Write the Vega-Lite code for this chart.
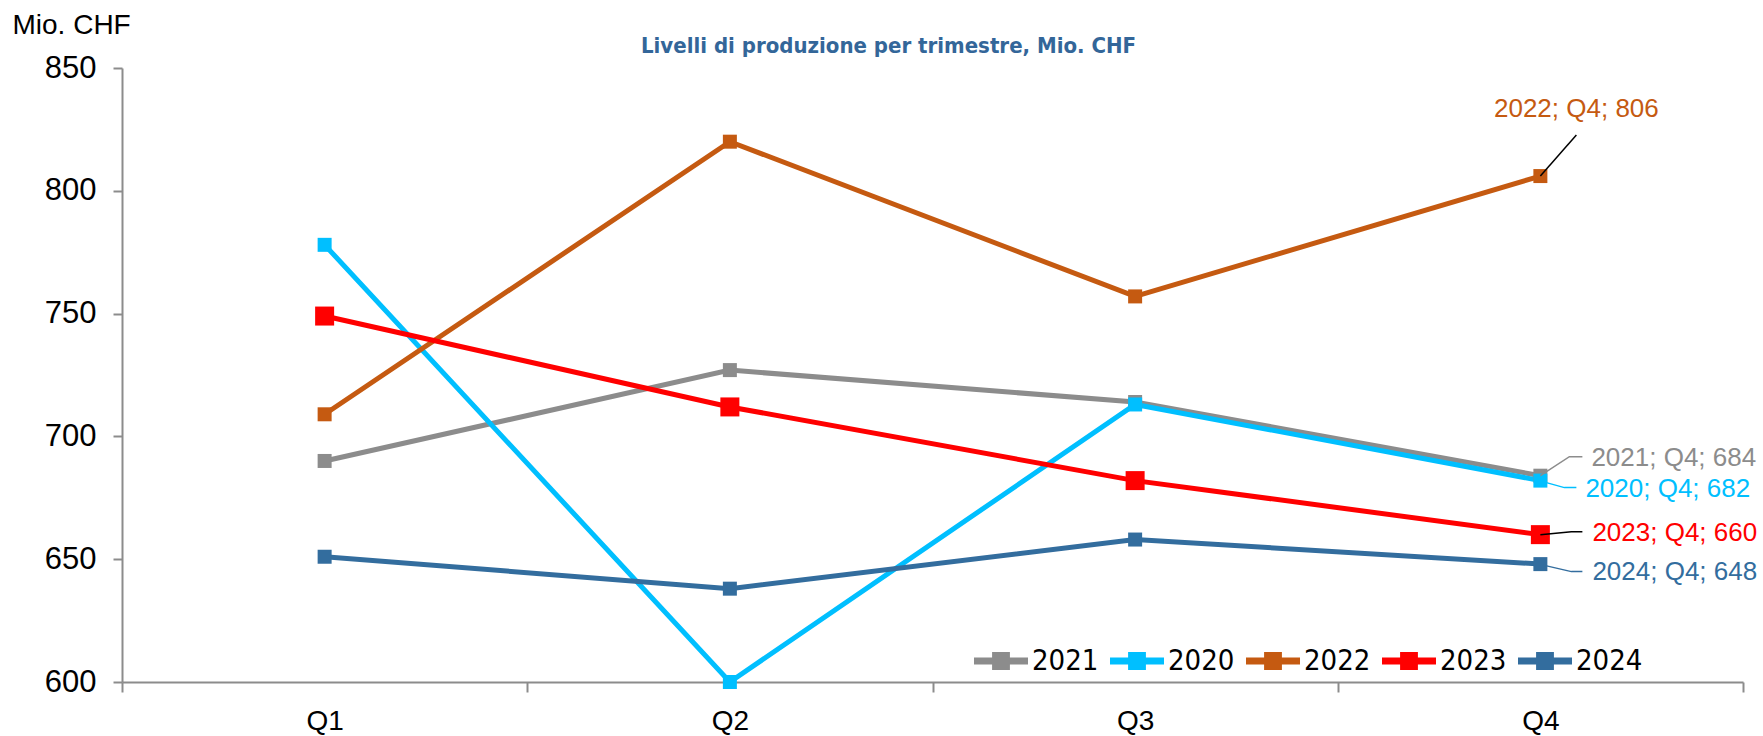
{
  "$schema": "https://vega.github.io/schema/vega-lite/v6.json",
  "width": 1621,
  "height": 614,
  "autosize": {"type": "none"},
  "padding": {"left": 122, "top": 68, "right": 20, "bottom": 54},
  "background": "white",
  "config": {"view": {"stroke": null}, "font": "Liberation Sans"},
  "title": {
    "text": "Livelli di produzione per trimestre, Mio. CHF",
    "font": "Liberation Sans Narrow, DejaVu Sans Condensed, sans-serif",
    "fontSize": 22,
    "fontWeight": "bold",
    "color": "#336699",
    "anchor": "middle",
    "frame": "group",
    "dx": -44,
    "offset": -64,
    "baseline": "alphabetic"
  },
  "data": {
    "values": [
      {"year": "2021", "q": "Q1", "value": 690},
      {"year": "2021", "q": "Q2", "value": 727},
      {"year": "2021", "q": "Q3", "value": 714},
      {"year": "2021", "q": "Q4", "value": 684},
      {"year": "2020", "q": "Q1", "value": 778},
      {"year": "2020", "q": "Q2", "value": 600},
      {"year": "2020", "q": "Q3", "value": 713},
      {"year": "2020", "q": "Q4", "value": 682},
      {"year": "2022", "q": "Q1", "value": 709},
      {"year": "2022", "q": "Q2", "value": 820},
      {"year": "2022", "q": "Q3", "value": 757},
      {"year": "2022", "q": "Q4", "value": 806},
      {"year": "2023", "q": "Q1", "value": 749},
      {"year": "2023", "q": "Q2", "value": 712},
      {"year": "2023", "q": "Q3", "value": 682},
      {"year": "2023", "q": "Q4", "value": 660},
      {"year": "2024", "q": "Q1", "value": 651},
      {"year": "2024", "q": "Q2", "value": 638},
      {"year": "2024", "q": "Q3", "value": 658},
      {"year": "2024", "q": "Q4", "value": 648}
    ]
  },
  "transform": [
    {"calculate": "datum.year + '; ' + datum.q + '; ' + datum.value", "as": "label"}
  ],
  "encoding": {
    "x": {
      "field": "q",
      "type": "ordinal",
      "scale": {"type": "band", "paddingInner": 0, "paddingOuter": 0},
      "axis": {
        "title": null,
        "tickBand": "extent",
        "domainColor": "#8c8c8c",
        "domainWidth": 2,
        "tickColor": "#8c8c8c",
        "tickWidth": 2,
        "tickSize": 10,
        "labelFont": "Liberation Sans",
        "labelFontSize": 28,
        "labelPadding": 15,
        "labelAngle": 0,
        "labelColor": "black",
        "grid": false
      }
    },
    "y": {
      "field": "value",
      "type": "quantitative",
      "scale": {"domain": [600, 850], "nice": false, "zero": false},
      "axis": {
        "values": [600, 650, 700, 750, 800, 850],
        "grid": false,
        "domainColor": "#8c8c8c",
        "domainWidth": 2,
        "tickColor": "#8c8c8c",
        "tickWidth": 2,
        "tickSize": 9,
        "labelFont": "Liberation Sans",
        "labelFontSize": 31,
        "labelPadding": 17,
        "labelColor": "black",
        "title": "Mio. CHF",
        "titleAngle": 0,
        "titleAlign": "left",
        "titleBaseline": "alphabetic",
        "titleX": -110,
        "titleY": -35,
        "titleFont": "Liberation Sans",
        "titleFontSize": 28,
        "titleFontWeight": "normal",
        "titleColor": "black"
      }
    },
    "color": {
      "field": "year",
      "type": "nominal",
      "scale": {
        "domain": ["2021", "2020", "2022", "2023", "2024"],
        "range": ["#8c8c8c", "#00bfff", "#c55a11", "#ff0000", "#336d9e"]
      },
      "legend": {
        "orient": "none",
        "legendX": 852,
        "legendY": 566,
        "direction": "horizontal",
        "title": null,
        "padding": 0,
        "symbolType": "M-1,-0.13H1V0.13H-1Z M-0.33,-0.33H0.33V0.33H-0.33Z",
        "symbolSize": 2916,
        "symbolStrokeWidth": 0,
        "labelFont": "Liberation Sans Narrow, DejaVu Sans Condensed, sans-serif",
        "labelFontSize": 29,
        "labelColor": "black",
        "labelOffset": 4,
        "columnPadding": 11,
        "encode": {
          "symbols": {
            "update": {
              "fill": {"scale": "color", "field": "value"},
              "stroke": {"value": "transparent"},
              "opacity": {"value": 1},
              "shape": {"value": "M-1,-0.13H1V0.13H-1Z M-0.33,-0.33H0.33V0.33H-0.33Z"},
              "size": {"value": 2916}
            }
          }
        }
      }
    }
  },
  "layer": [
    {"mark": {"type": "line", "strokeWidth": 5}},
    {
      "mark": {"type": "point", "shape": "square", "filled": true, "opacity": 1},
      "encoding": {
        "size": {"condition": {"test": "datum.year === '2023'", "value": 361}, "value": 196}
      }
    },
    {
      "transform": [{"filter": "datum.year === '2022' && datum.q === 'Q4'"}],
      "mark": {"type": "point", "shape": "M0,0L36,-41", "size": 4, "filled": false, "strokeWidth": 1.5, "opacity": 1},
      "encoding": {"color": {"value": "#000000"}}
    },
    {
      "transform": [{"filter": "datum.year === '2021' && datum.q === 'Q4'"}],
      "mark": {"type": "point", "shape": "M0,0L29,-19L42,-19", "size": 4, "filled": false, "strokeWidth": 1.5, "opacity": 1},
      "encoding": {"color": {"value": "#8c8c8c"}}
    },
    {
      "transform": [{"filter": "datum.year === '2020' && datum.q === 'Q4'"}],
      "mark": {"type": "point", "shape": "M6,2L24,7L36,7", "size": 4, "filled": false, "strokeWidth": 1.5, "opacity": 1},
      "encoding": {"color": {"value": "#00bfff"}}
    },
    {
      "transform": [{"filter": "datum.year === '2023' && datum.q === 'Q4'"}],
      "mark": {"type": "point", "shape": "M0,0L31,-3L42,-3", "size": 4, "filled": false, "strokeWidth": 1.5, "opacity": 1},
      "encoding": {"color": {"value": "#000000"}}
    },
    {
      "transform": [{"filter": "datum.year === '2024' && datum.q === 'Q4'"}],
      "mark": {"type": "point", "shape": "M3,1L31,7.5L42,7.5", "size": 4, "filled": false, "strokeWidth": 1.5, "opacity": 1},
      "encoding": {"color": {"value": "#336d9e"}}
    },
    {
      "transform": [{"filter": "datum.year === '2022' && datum.q === 'Q4'"}],
      "mark": {"type": "text", "align": "center", "baseline": "middle", "dx": 36, "dy": -67, "fontSize": 26, "font": "Liberation Sans"},
      "encoding": {"text": {"field": "label"}}
    },
    {
      "transform": [{"filter": "datum.year === '2021' && datum.q === 'Q4'"}],
      "mark": {"type": "text", "align": "left", "baseline": "middle", "dx": 51, "dy": -18, "fontSize": 26, "font": "Liberation Sans"},
      "encoding": {"text": {"field": "label"}}
    },
    {
      "transform": [{"filter": "datum.year === '2020' && datum.q === 'Q4'"}],
      "mark": {"type": "text", "align": "left", "baseline": "middle", "dx": 45, "dy": 8, "fontSize": 26, "font": "Liberation Sans"},
      "encoding": {"text": {"field": "label"}}
    },
    {
      "transform": [{"filter": "datum.year === '2023' && datum.q === 'Q4'"}],
      "mark": {"type": "text", "align": "left", "baseline": "middle", "dx": 52, "dy": -2, "fontSize": 26, "font": "Liberation Sans"},
      "encoding": {"text": {"field": "label"}}
    },
    {
      "transform": [{"filter": "datum.year === '2024' && datum.q === 'Q4'"}],
      "mark": {"type": "text", "align": "left", "baseline": "middle", "dx": 52, "dy": 8, "fontSize": 26, "font": "Liberation Sans"},
      "encoding": {"text": {"field": "label"}}
    }
  ]
}
